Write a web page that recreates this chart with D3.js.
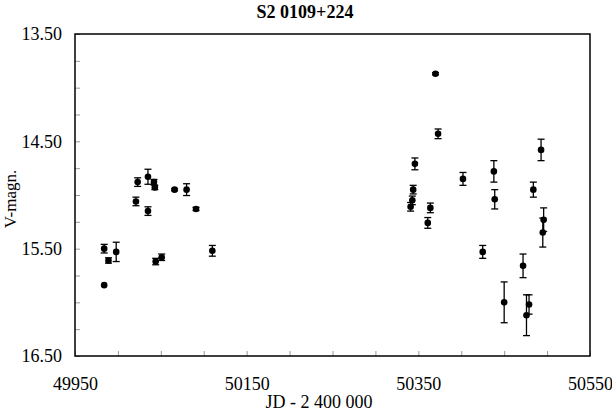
<!DOCTYPE html>
<html>
<head>
<meta charset="utf-8">
<script src="https://cdn.jsdelivr.net/npm/d3@7"></script>
<style>
  body { margin: 0; background: #fff; }
  text { font-family: "Liberation Serif", "Times New Roman", serif; fill: #000; }
</style>
</head>
<body>
<script>
"use strict";
var svg_width = 612;
var svg_height = 415;

var jd  = [49984, 49989, 49984, 49998, 50021, 50023, 50035, 50035, 50042, 50043,
           50044, 50051, 50066, 50080, 50091, 50110,
           50341, 50343, 50344, 50346, 50361, 50364, 50370, 50373, 50402, 50425,
           50438, 50439, 50450, 50472, 50476, 50479, 50484, 50493, 50496, 50495];
var vmag = [15.50, 15.61, 15.84, 15.53, 15.06, 14.88, 14.83, 15.15, 14.88, 14.93,
            15.62, 15.58, 14.95, 14.95, 15.13, 15.52,
            15.11, 15.05, 14.95, 14.71, 15.26, 15.12, 13.87, 14.43, 14.85, 15.53,
            14.78, 15.04, 16.00, 15.66, 16.12, 16.02, 14.95, 14.58, 15.23, 15.35];
var verr = [0.04, 0.025, 0.0, 0.09, 0.04, 0.04, 0.07, 0.04, 0.025, 0.02,
            0.03, 0.03, 0.01, 0.055, 0.015, 0.05,
            0.04, 0.04, 0.04, 0.055, 0.05, 0.045, 0.01, 0.045, 0.06, 0.06,
            0.10, 0.09, 0.19, 0.11, 0.19, 0.09, 0.07, 0.10, 0.11, 0.135];

var x_ticks = d3.range(49950, 50551, 50);
var x_labels = [49950, 50150, 50350, 50550];
var y_ticks = d3.range(13.5, 16.51, 0.25);
var y_labels = [13.5, 14.5, 15.5, 16.5];

var margin = {left: 75, right: 22, top: 34, bottom: 59};
var plot_w = svg_width - margin.left - margin.right;
var plot_h = svg_height - margin.top - margin.bottom;

var svg = d3.select("body").append("svg")
    .attr("width", svg_width)
    .attr("height", svg_height);

var xscale = d3.scaleLinear().domain([49950, 50550]).range([0, plot_w]);
var yscale = d3.scaleLinear().domain([13.5, 16.5]).range([0, plot_h]);

var g = svg.append("g")
    .attr("transform", "translate(" + margin.left + "," + margin.top + ")");

// x axis, ticks pointing inward
var xaxis = d3.axisBottom(xscale)
    .tickValues(x_ticks)
    .tickSize(-5)
    .tickPadding(21)
    .tickFormat(function(d) { return x_labels.indexOf(d) >= 0 ? d3.format("d")(d) : ""; });
g.append("g")
    .attr("transform", "translate(0," + plot_h + ")")
    .call(xaxis)
    .call(function(a) { a.select(".domain").remove(); });

var yaxis = d3.axisLeft(yscale)
    .tickValues(y_ticks)
    .tickSize(-5)
    .tickPadding(13)
    .tickFormat(function(d) {
        return y_labels.some(function(v) { return Math.abs(v - d) < 1e-6; }) ? d3.format(".2f")(d) : "";
    });
g.append("g")
    .call(yaxis)
    .call(function(a) { a.select(".domain").remove(); });

g.selectAll(".tick line").attr("stroke", "#999").attr("stroke-width", 1);
g.selectAll(".tick text")
    .style("font-family", "Liberation Serif, serif")
    .style("font-size", "18px")
    .attr("fill", "#000");

// frame
g.append("rect")
    .attr("x", 0).attr("y", 0)
    .attr("width", plot_w).attr("height", plot_h)
    .attr("fill", "none")
    .attr("stroke", "#000")
    .attr("stroke-width", 1.5);

// error bars + points
var obs = jd.map(function(d, i) { return {jd: d, mag: vmag[i], err: verr[i]}; });
var bars = g.append("g").attr("stroke", "#000").attr("stroke-width", 1.3);
obs.forEach(function(d) {
    if (d.err <= 0) return;
    var cx = xscale(d.jd);
    var y1 = yscale(d.mag - d.err), y2 = yscale(d.mag + d.err);
    bars.append("line").attr("x1", cx).attr("x2", cx).attr("y1", y1).attr("y2", y2);
    bars.append("line").attr("x1", cx - 3.5).attr("x2", cx + 3.5).attr("y1", y1).attr("y2", y1);
    bars.append("line").attr("x1", cx - 3.5).attr("x2", cx + 3.5).attr("y1", y2).attr("y2", y2);
});
g.selectAll("circle")
    .data(obs)
    .enter()
    .append("circle")
    .attr("cx", function(d) { return xscale(d.jd); })
    .attr("cy", function(d) { return yscale(d.mag); })
    .attr("r", 3.3)
    .attr("fill", "#000");

// titles
svg.append("text")
    .attr("x", 305).attr("y", 18)
    .attr("text-anchor", "middle")
    .style("font-size", "18px")
    .style("font-weight", "bold")
    .text("S2 0109+224");
svg.append("text")
    .attr("x", 319).attr("y", 408)
    .attr("text-anchor", "middle")
    .style("font-size", "18px")
    .text("JD - 2 400 000");
svg.append("text")
    .attr("transform", "translate(16,199) rotate(-90)")
    .attr("text-anchor", "middle")
    .style("font-size", "17px")
    .text("V-magn.");
</script>
</body>
</html>
